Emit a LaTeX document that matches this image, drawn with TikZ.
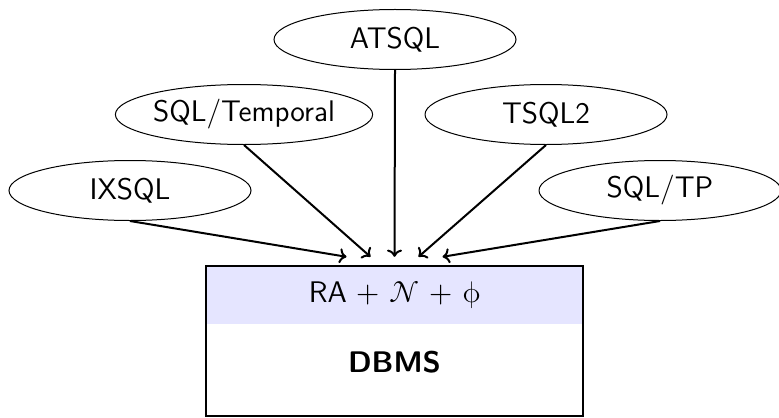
\documentclass[tikz,border=0pt]{standalone}
\usepackage[math-style=upright]{unicode-math}
\setmathfont{Latin Modern Math}
\usetikzlibrary{shapes.geometric,calc,arrows.meta}
\tikzset{
  txt/.style={font=\sffamily\fontsize{14.9}{18}\selectfont},
  lang/.style={ellipse, draw, line width=0.5pt, inner sep=0pt,
    minimum width=121pt, minimum height=30pt, txt},
  feed/.style={-{To[length=3.6pt,width=7.5pt]}, line width=1pt},
  core/.style={rectangle, draw, line width=1.2pt, inner sep=0pt,
    minimum width=188.5pt, minimum height=75pt},
  label/.style={inner sep=0pt, txt}
}
\begin{document}
\begin{tikzpicture}[x=0.5pt,y=-0.5pt]
  \useasboundingbox (0,0) rectangle (779,417);

  % query languages
  \node[lang] (atsql)    at (395,39.5)  {ATSQL};
  \node[lang] (sqltemp)  at (244,114.5) {SQL/Temporal};
  \node[lang] (tsql2)    at (546,114.5) {TSQL2};
  \node[lang] (ixsql)    at (130,190.5) {IXSQL};
  \node[lang] (sqltp)    at (660,190.5) {SQL/TP};

  % the engine
  \node[core] (dbms) at (394.5,341) {};
  \fill[blue!10] (dbms.north west) rectangle ($(dbms.north east)+(0,59)$);
  \node[core] at (dbms.center) {};
  \node[label] (algebra) at (395,295) {RA $+$ $\mathcal{N}$ $+$ $\phi$};
  \node[label, font=\sffamily\bfseries\fontsize{14.9}{18}\selectfont] (name) at (394.5,362) {DBMS};

  % arrow targets above the box
  \coordinate (t1) at ($(dbms.north)+(-48,-8)$);
  \coordinate (t2) at ($(dbms.north)+(-24,-8)$);
  \coordinate (t3) at ($(dbms.north)+(0,-8)$);
  \coordinate (t4) at ($(dbms.north)+(24,-8)$);
  \coordinate (t5) at ($(dbms.north)+(48,-8)$);

  \draw[feed] (ixsql.south)   -- (t1);
  \draw[feed] (sqltemp.south) -- (t2);
  \draw[feed] (atsql.south)   -- (t3);
  \draw[feed] (tsql2.south)   -- (t4);
  \draw[feed] (sqltp.south)   -- (t5);
\end{tikzpicture}
\end{document}
